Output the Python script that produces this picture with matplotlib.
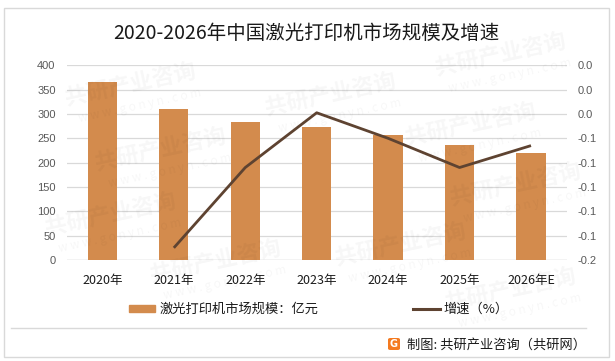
import matplotlib
matplotlib.use("Agg")
import matplotlib.pyplot as plt
from matplotlib.patches import Rectangle, FancyBboxPatch
from matplotlib.lines import Line2D
from matplotlib.ticker import FixedLocator, FuncFormatter
import math

# ---- data ----
years = ["2020年", "2021年", "2022年", "2023年", "2024年", "2025年", "2026年E"]
market_size = [366, 310, 284, 273, 257, 236, 220]          # 亿元
growth = [None, -0.150, -0.084, -0.039, -0.060, -0.084, -0.066]
left_ticks = [0, 50, 100, 150, 200, 250, 300, 350, 400]
right_ticks = [0.0, -0.02, -0.04, -0.06, -0.08, -0.10, -0.12, -0.14, -0.16]

title = "2020-2026年中国激光打印机市场规模及增速"
bar_label = "激光打印机市场规模：亿元"
line_label = "增速（%）"
footer = "制图: 共研产业咨询（共研网）"

CJK = ["Noto Sans CJK SC", "DejaVu Sans"]
plt.rcParams["font.family"] = CJK

BAR_C = "#D38B4D"
LINE_C = "#5E4331"
GRID_C = "#D9D9D9"

fig = plt.figure(figsize=(6.15, 3.61), dpi=100)
W, H = 615, 361
ax = fig.add_axes([66.7 / W, 1 - 260 / H, 500 / W, 194.7 / H])
ax2 = ax.twinx()

x = list(range(len(years)))
ax.bar(x, market_size, width=0.41, color=BAR_C, zorder=2)
ax.set_xlim(-0.5, len(years) - 0.5)
ax.set_ylim(0, 400)
ax.yaxis.set_major_locator(FixedLocator(left_ticks))
ax.grid(axis="y", color=GRID_C, lw=0.9, zorder=0)
ax.set_axisbelow(True)
for s in ax.spines.values():
    s.set_visible(False)
for s in ax2.spines.values():
    s.set_visible(False)
ax.set_xticks(x)
ax.set_xticklabels(years, fontsize=9, color="#1A1A1A")
ax.tick_params(axis="x", length=0, pad=10)
ax.tick_params(axis="y", length=0, pad=8, labelsize=8, labelcolor="#595959")
for lab in ax.get_yticklabels():
    lab.set_family(["Liberation Sans", "DejaVu Sans"])

gx = [i for i, g in zip(x, growth) if g is not None]
gy = [g for g in growth if g is not None]
ax2.plot(gx, gy, color=LINE_C, lw=2.0, zorder=3, solid_capstyle="butt")
ax2.set_ylim(-0.16, 0.0)
ax2.yaxis.set_major_locator(FixedLocator(right_ticks))


def fmt(v, pos):
    r = math.copysign(math.floor(abs(v) * 10 + 0.5 + 1e-9) / 10, v)
    if abs(r) < 1e-9:
        return "0.0"
    return f"{r:.1f}"


ax2.yaxis.set_major_formatter(FuncFormatter(fmt))
ax2.tick_params(axis="y", length=0, pad=8, labelsize=8, labelcolor="#595959")
for lab in ax2.get_yticklabels():
    lab.set_family(["Liberation Sans", "DejaVu Sans"])
ax.set_zorder(1)
ax2.set_zorder(2)
ax.patch.set_visible(False)

# baseline
ax.axhline(0, color=GRID_C, lw=1.0, zorder=1)

# title
fig.text(306.5 / W, 1 - 33 / H, title, ha="center", va="center", fontsize=14, color="#1A1A1A")

# legend
handles = [Rectangle((0, 0), 1, 1, color=BAR_C), Line2D([0], [0], color=LINE_C, lw=2.2)]
leg = fig.legend(handles, [bar_label, line_label], loc="center",
                 bbox_to_anchor=(319 / W, 1 - 309.5 / H), ncol=2, frameon=False,
                 fontsize=9.5, handlelength=2.0, handletextpad=0.3, columnspacing=7.2,
                 handleheight=0.5)
for t in leg.get_texts():
    t.set_color("#1A1A1A")

# faint watermarks (kept inside the frame)
wm_pos = [(160, 150), (330, 95), (500, 55), (215, 262), (400, 245), (515, 185),
          (110, 215), (470, 125), (130, 85), (510, 290)]
for px, py in wm_pos:
    fig.text(px / W, 1 - py / H, "共研产业咨询", fontsize=16, fontweight="bold",
             color="#000000", alpha=0.035, rotation=12, ha="center", va="center", zorder=10)
    fig.text((px + 10) / W, 1 - (py + 21) / H, "w w w . g o n y n . c o m", fontsize=8.5,
             color="#000000", alpha=0.035, rotation=12, ha="center", va="center", zorder=10)

# outer border and separator
fig.patches.append(Rectangle((4 / W, 1 - 357 / H), 605 / W, 349 / H, transform=fig.transFigure,
                             fill=False, edgecolor=GRID_C, lw=1.0))
fig.lines.append(Line2D([11 / W, 586 / W], [1 - 328 / H, 1 - 328 / H], transform=fig.transFigure,
                        color=GRID_C, lw=1.0))

# footer logo + text
fig.patches.append(FancyBboxPatch((388 / W, 1 - 350 / H), 12 / W, 12 / H, transform=fig.transFigure,
                                  boxstyle="round,pad=0,rounding_size=0.004",
                                  facecolor="#F47A20", edgecolor="none"))
fig.text(394 / W, 1 - 344 / H, "G", fontsize=7, fontweight="bold", color="white",
         ha="center", va="center", family=["DejaVu Sans"])
fig.text(407 / W, 1 - 345 / H, footer, ha="left", va="center", fontsize=9.5, color="#1A1A1A")

fig.savefig("out.png", dpi=100)
